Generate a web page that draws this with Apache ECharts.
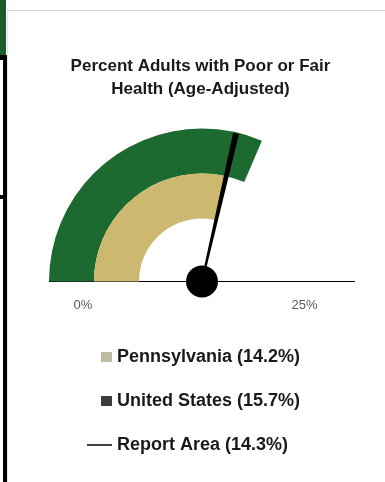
<!DOCTYPE html>
<html>
<head>
<meta charset="utf-8">
<script src="https://cdn.jsdelivr.net/npm/echarts@6/dist/echarts.min.js"></script>
<style>
  html, body { margin: 0; padding: 0; background: #ffffff; }
  body { width: 385px; height: 482px; position: relative; overflow: hidden; }
  #chart { position: absolute; left: 16px; top: 0; width: 369px; height: 482px; }
  .edge { position: absolute; }
</style>
</head>
<body>
<div class="edge" style="left:0;top:0;width:6px;height:55px;background:#1f5a2a;"></div>
<div class="edge" style="left:0;top:55px;width:7px;height:5px;background:#000;"></div>
<div class="edge" style="left:0;top:195px;width:7px;height:4px;background:#000;"></div>
<div class="edge" style="left:3px;top:55px;width:4px;height:427px;background:#000;"></div>
<div class="edge" style="left:7px;top:10px;width:378px;height:1px;background:#d6d6d6;"></div>
<div class="edge" style="left:7px;top:11px;width:1px;height:471px;background:#e6e6e6;"></div>
<div id="chart"></div>
<script>
// Gauge scale
const scaleMin = 0;
const scaleMax = 25;
const tickLabels = ['0%', '25%'];

// Series
const seriesNames = ['Pennsylvania', 'United States', 'Report Area'];
const seriesValues = [14.2, 15.7, 14.3];
const seriesColors = ['#cdb86f', '#1c6a30', '#000000'];
const legendColors = ['#bdbca0', '#3d3d3d', '#000000'];

const titleText = 'Percent Adults with Poor or Fair\nHealth (Age-Adjusted)';

const labelOf = i => seriesNames[i] + ' (' + seriesValues[i].toFixed(1) + '%)';

const cx = 186, cy = 281.5;
const fontFamily = '"Liberation Sans", Arial, sans-serif';

function baseGauge(i) {
  return {
    type: 'gauge',
    name: labelOf(i),
    center: [cx, cy],
    startAngle: 180,
    endAngle: 0,
    min: scaleMin,
    max: scaleMax,
    splitNumber: 1,
    axisLine: { show: false, lineStyle: { width: 0 } },
    axisTick: { show: false },
    splitLine: { show: false },
    axisLabel: { show: false },
    pointer: { show: false },
    anchor: { show: false },
    title: { show: false },
    detail: { show: false },
    animation: false,
    data: [{ value: seriesValues[i], name: labelOf(i) }]
  };
}

// Outer ring: United States (its split lines form the baseline)
const usRing = baseGauge(1);
usRing.radius = 153;
usRing.progress = { show: true, width: 45, itemStyle: { color: seriesColors[1] } };
usRing.splitLine = { show: true, distance: 0, length: '100%', lineStyle: { color: '#000', width: 1 } };

// Inner ring: Pennsylvania
const paRing = baseGauge(0);
paRing.radius = 108;
paRing.progress = { show: true, width: 45, itemStyle: { color: seriesColors[0] } };

// Needle: Report Area
const needle = baseGauge(2);
needle.radius = 152;
needle.z = 5;
needle.pointer = {
  show: true,
  icon: 'path://M0,0 L6,0 L4,100 L2,100 Z',
  length: '100%',
  width: 6,
  offsetCenter: [0, 0],
  itemStyle: { color: seriesColors[2] }
};
needle.anchor = { show: true, showAbove: true, size: 32, itemStyle: { color: '#000', borderWidth: 0 } };

// Scale end labels below the baseline
const scaleLabels = baseGauge(2);
scaleLabels.name = 'scale';
scaleLabels.center = [179.5, 305];
scaleLabels.radius = 142;
scaleLabels.axisLabel = {
  show: true,
  distance: 0,
  color: '#595959',
  fontSize: 13,
  fontFamily: fontFamily,
  formatter: v => tickLabels[v === scaleMin ? 0 : 1]
};

function legendFor(i, top, left, w, h) {
  return {
    top: top,
    left: left,
    padding: 0,
    orient: 'vertical',
    itemWidth: w,
    itemHeight: h,
    selectedMode: false,
    data: [{ name: labelOf(i), icon: 'rect', itemStyle: { color: legendColors[i], borderWidth: 0 } }],
    textStyle: { fontSize: 18, fontWeight: 'bold', color: '#1a1a1a', fontFamily: fontFamily }
  };
}

const chart = echarts.init(document.getElementById('chart'), null, { renderer: 'canvas' });
chart.setOption({
  backgroundColor: 'transparent',
  title: {
    text: titleText,
    left: 'center',
    top: 50,
    textStyle: { fontSize: 17, fontWeight: 'bold', color: '#1a1a1a', lineHeight: 23, fontFamily: fontFamily }
  },
  legend: [
    legendFor(0, 348, 85, 11, 10),
    legendFor(1, 392, 85, 11, 10),
    legendFor(2, 436, 71, 25, 1.5)
  ],
  series: [usRing, paRing, needle, scaleLabels]
});
</script>
</body>
</html>
